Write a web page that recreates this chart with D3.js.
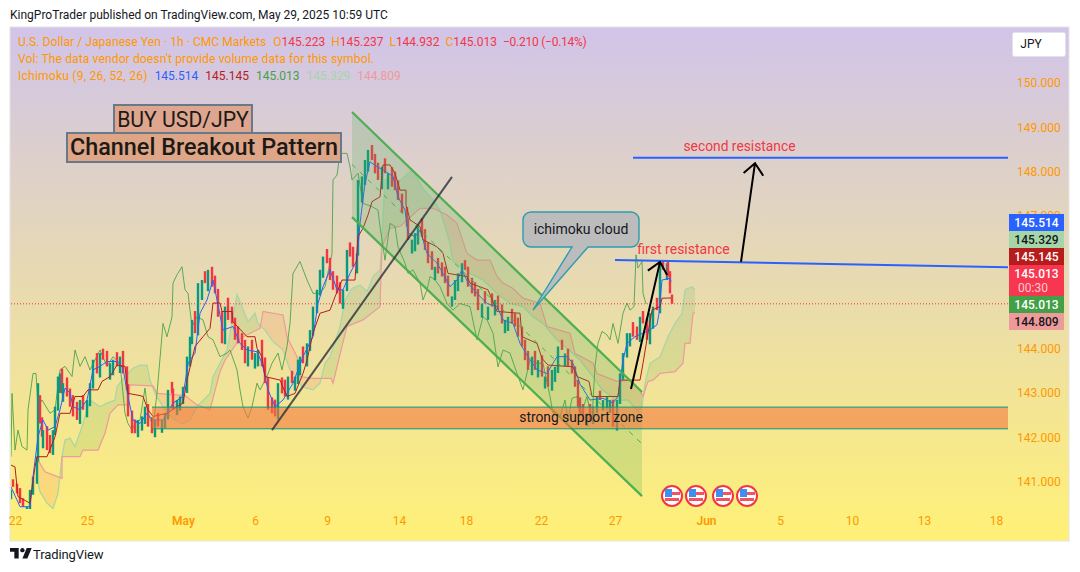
<!DOCTYPE html>
<html><head><meta charset="utf-8">
<script src="https://cdn.jsdelivr.net/npm/d3@7/dist/d3.min.js"></script>
<style>html,body{margin:0;padding:0;background:#fff}svg{display:block}text{font-family:Roboto,sans-serif}</style>
</head><body><svg id="c" width="1080" height="572"></svg>
<script>
const hours=[0,2,6,9,12,16,19,22,26,27,29,31,32,36,39,42,44,47,49,51,52,56,59,62,66,69,72,76,79,82,86,89,92,96,99,102,106,109,112,116,117,121,124,127,131,134,137,141,144,147,151,154,157,161,162,166,169,172,176,179,181,184,187,191,194,197,201,204,207,211,214,217,221,224,227,231,234,237,241,244,247,251,254,257,261,264,267,271,274,277,281,284,287,
289,292,296,299,302,306,309,312,316,319,322,326,329,332,336,339,342,346,347,351,354,357,361,364,367,371,374,377,381,384,387,391,396,397,401,404,407,411,414,417,421,424,427,431,434,437,441,444,447,451,454,457,461,464,467,471,474,477,481,484,487,491,494,497,501,504,507,511,514,517,521,524,527,531,534,537,541,544,547,551,554,557,561,564,567,
569,572,576,579,582,586,589,592,596,599,602,606,609,612,616,619,622,626,629,632,636,639,642,646,649,652,656,657,659,661];
const closes=[140.81,140.88,140.73,140.51,140.43,140.43,140.81,141.11,141.56,143.22,142.31,142.01,142.16,141.71,141.64,142.16,142.69,143.37,143.44,142.99,143.22,142.92,142.69,142.47,142.39,142.84,142.62,142.84,143.22,143.75,143.44,143.90,143.75,143.60,143.67,143.75,143.60,143.82,143.44,143.07,142.47,142.09,142.09,142.39,142.47,142.69,142.24,142.09,142.39,142.24,142.39,142.54,143.07,142.99,142.62,142.84,142.92,143.14,143.82,144.27,144.65,144.35,145.48,145.55,145.48,145.78,145.40,145.25,144.72,144.12,144.95,144.65,144.57,144.20,144.12,143.97,143.67,144.05,143.75,143.90,143.97,143.60,143.22,142.62,142.54,142.47,143.22,142.99,142.92,143.37,143.22,143.37,143.75,
143.82,143.67,144.12,144.42,144.95,145.33,145.78,146.08,145.93,145.55,145.33,145.25,145.02,145.33,146.23,146.08,145.85,146.15,147.81,147.89,148.26,148.49,148.26,147.96,147.81,148.11,147.96,147.96,147.66,147.58,147.36,147.06,146.76,146.46,146.46,146.61,146.76,146.53,146.23,145.93,145.78,145.85,145.70,145.63,145.48,145.18,145.18,145.55,145.70,145.93,145.78,145.40,145.25,145.18,144.87,145.02,145.02,144.95,144.95,145.10,144.87,144.57,144.65,144.72,144.57,144.50,144.27,144.05,143.74,143.52,143.82,143.52,143.74,143.37,143.37,143.14,143.52,143.59,144.05,143.97,143.89,143.59,143.44,143.14,142.69,
142.54,142.39,142.54,142.39,142.69,142.92,142.84,142.84,142.92,142.84,142.24,142.84,143.44,143.90,144.35,144.35,144.27,144.20,144.72,144.57,144.20,144.80,144.95,144.87,145.93,145.78,145.93,145.63,145.25,145.013];
const opens=[140.6,141.05,140.95,140.85,140.62,140.25,140.35,140.7,140.95,141.45,142.95,142.45,141.75,142.25,142.05,141.6,142.05,142.6,143.0,143.55,142.8,143.35,143.1,142.95,142.8,142.3,142.95,142.45,142.7,143.1,143.9,143.35,144.0,143.95,143.3,143.4,143.92,143.45,143.95,143.6,143.2,142.6,142.4,142.0,142.15,142.3,142.75,142.45,142.0,142.55,142.1,142.2,142.4,143.25,143.1,142.5,142.6,142.75,143.0,143.6,144.1,144.85,144.3,145.1,145.75,145.3,145.85,145.65,145.35,144.85,144.1,145.15,144.95,144.7,144.5,144.35,144.2,143.6,144.2,143.55,143.6,144.2,143.8,143.35,142.9,142.85,142.4,143.35,143.3,142.85,143.5,143.05,143.2,
143.4,144.05,143.6,143.95,144.3,144.8,145.2,145.6,146.25,146.05,145.75,145.65,145.5,144.9,145.3,146.4,146.3,145.7,146.1,147.3,147.7,148.0,148.6,148.4,148.2,147.6,148.3,147.6,148.1,148.0,147.8,147.5,147.2,146.95,146.15,146.2,146.35,146.95,146.7,146.4,146.2,145.55,146.05,145.95,145.85,145.65,144.95,145.1,145.3,145.5,146.0,145.85,145.6,145.5,145.35,144.7,145.3,144.65,145.25,144.75,145.2,145.0,144.35,144.4,144.9,144.8,144.7,144.5,144.2,143.95,143.4,143.95,143.35,143.85,143.1,143.6,143.05,143.25,143.45,144.2,143.6,144.0,143.75,143.6,143.3,
142.9,142.75,142.25,142.75,142.3,142.55,143.05,142.6,142.65,142.55,142.85,142.15,142.75,143.3,143.8,144.05,144.6,144.5,144.15,144.85,144.7,144.1,144.45,145.15,144.8,146.0,145.55,146.0,145.75,145.223];
const tenkan=[[0,140.88],[9,140.43],[19,140.43],[22,141.11],[27,142.01],[32,142.39],[37,142.16],[44,142.24],[49,142.62],[54,143.11],[59,143.0],[62,142.69],[69,142.62],[76,142.84],[82,143.52],[89,143.6],[96,143.71],[106,143.71],[112,143.56],[117,142.92],[122,142.39],[129,142.31],[136,142.54],[142,142.39],[152,142.39],[162,142.77],[172,142.92],[177,143.67],[184,143.9],[189,144.8],[196,145.1],[202,145.55],[206,145.1],[212,144.42],[222,144.5],[229,144.12],[236,143.97],[246,143.93],[251,143.67],[257,143.07],[264,142.69],[272,142.84],[282,143.22],[292,143.82],[302,144.27],[307,145.02],[312,145.40],[319,145.78],[326,145.33],[332,145.33],[339,145.70],[346,146.0],[349,146.83],[354,147.73],[359,148.22],[366,148.11],[372,148.04],[382,147.89],[387,147.43],[394,147.13],[397,146.61],[404,146.53],[409,146.68],[416,146.15],[426,145.93],[432,145.70],[439,145.40],[446,145.55],[451,145.78],[457,145.48],[466,145.25],[476,145.02],[486,144.95],[492,144.65],[502,144.57],[509,144.12],[517,143.82],[526,143.52],[536,143.44],[546,143.82],[556,143.82],[562,143.67],[569,143.2],[579,142.84],[592,142.88],[602,142.77],[607,142.92],[612,143.74],[616,144.12],[624,144.27],[632,144.35],[639,144.42],[646,144.54],[648,144.8],[651,145.55],[659,145.59],[660,145.514]];
const kijun=[[0,141.37],[4,141.33],[7,140.66],[19,140.51],[24,141.33],[26,141.56],[36,141.56],[44,142.01],[49,142.54],[59,142.54],[64,142.92],[72,142.92],[77,143.07],[87,143.07],[91,143.26],[99,143.37],[106,143.63],[114,143.6],[117,142.99],[129,142.94],[132,142.92],[137,142.62],[142,142.47],[156,142.54],[166,142.69],[172,142.77],[176,143.29],[184,144.05],[192,144.27],[199,144.46],[202,145.03],[209,145.03],[211,144.84],[221,144.84],[222,144.61],[236,144.27],[244,144.27],[246,144.01],[251,143.82],[254,143.37],[269,143.29],[276,142.92],[284,142.99],[292,143.44],[296,143.74],[302,144.35],[309,144.8],[319,144.87],[324,145.17],[331,145.55],[344,145.55],[347,146.53],[352,146.72],[357,147.02],[361,147.32],[369,147.43],[372,148.15],[379,148.15],[384,147.96],[389,147.58],[395,147.58],[395,147.25],[399,146.91],[409,146.76],[412,146.46],[426,146.3],[432,146.15],[437,145.7],[456,145.63],[459,145.48],[477,145.33],[486,144.84],[509,144.8],[511,144.27],[526,144.12],[531,143.78],[537,143.63],[562,143.59],[566,143.37],[578,143.26],[581,142.92],[607,142.92],[609,143.29],[629,143.29],[632,143.67],[637,144.35],[641,144.87],[649,144.95],[651,145.14],[660,145.145]];
const chikou=[[0,141.56],[1,142.99],[4,141.71],[7,142.16],[11,141.79],[16,141.71],[17,142.62],[22,143.44],[25,143.44],[27,142.69],[31,142.84],[39,142.54],[44,142.62],[49,143.52],[54,143.6],[61,143.37],[64,143.97],[69,143.6],[74,143.82],[79,143.52],[89,143.97],[96,143.6],[102,143.82],[109,143.67],[114,142.54],[117,142.31],[121,142.16],[124,142.31],[129,142.39],[134,143.11],[137,142.54],[142,142.24],[146,142.99],[152,144.57],[156,144.27],[161,144.72],[162,145.48],[166,145.67],[171,145.85],[174,145.33],[177,145.25],[181,144.5],[186,144.72],[192,144.65],[197,144.27],[202,144.2],[209,143.82],[216,143.9],[219,143.97],[226,143.52],[229,143.07],[232,142.69],[237,142.43],[241,142.69],[246,143.22],[249,143.07],[256,143.37],[261,143.67],[267,143.9],[271,143.52],[276,144.05],[279,144.57],[282,145.7],[289,145.97],[296,145.55],[302,145.25],[309,145.25],[314,145.4],[321,146.15],[322,147.81],[326,147.92],[329,148.41],[336,148.41],[339,148.11],[341,147.81],[347,147.96],[352,147.28],[361,147.21],[367,147.13],[369,146.76],[374,146.0],[379,146.83],[384,146.76],[387,146.3],[394,145.93],[397,145.7],[402,145.78],[409,145.48],[412,145.1],[416,145.33],[419,145.63],[424,145.55],[429,145.4],[436,145.02],[442,144.87],[449,145.02],[459,144.95],[466,144.2],[472,144.72],[476,144.65],[482,144.35],[487,143.59],[492,143.97],[499,143.9],[506,143.44],[512,143.07],[519,143.74],[526,143.67],[532,143.67],[539,142.92],[542,142.54],[549,142.46],[554,142.84],[557,142.39],[561,142.88],[566,142.92],[569,142.47],[576,142.92],[581,142.39],[584,143.6],[587,144.12],[591,144.39],[596,144.31],[599,144.2],[602,144.57],[607,144.12],[612,144.8],[616,145.03],[619,144.87],[623,144.95],[625,146.12],[627,145.82],[631,145.97],[632,145.25],[635,145.013]];
const spanA=[[26,141.07],[29,140.77],[36,140.51],[42,140.39],[47,140.73],[51,141.56],[54,141.94],[59,141.98],[64,141.79],[71,142.24],[79,142.84],[89,142.69],[96,142.77],[104,142.84],[106,143.14],[114,143.37],[122,143.56],[129,143.63],[136,143.63],[139,143.29],[144,142.99],[156,142.54],[164,142.39],[171,142.3],[179,142.39],[186,142.69],[199,142.99],[202,143.37],[209,143.67],[216,143.97],[222,144.72],[226,145.22],[231,144.95],[237,144.61],[244,144.8],[247,144.57],[254,144.42],[262,144.16],[272,143.97],[279,143.52],[284,143.41],[291,143.14],[302,143.07],[309,143.22],[314,143.67],[319,143.82],[329,144.5],[334,145.1],[341,145.36],[349,145.44],[356,145.29],[362,145.63],[369,145.78],[371,146.53],[374,147.81],[381,147.89],[386,147.73],[401,148.04],[412,147.62],[422,147.36],[429,147.13],[439,146.38],[442,145.97],[459,145.7],[472,145.55],[486,145.25],[499,145.02],[512,144.95],[522,144.72],[532,144.57],[546,144.2],[562,143.89],[569,143.74],[582,143.37],[591,143.07],[606,142.84],[617,142.84],[627,142.58],[631,142.69],[634,143.22],[639,143.67],[649,143.82],[657,144.27],[664,144.57],[671,144.8],[674,145.33],[681,145.4],[684,145.329]];
const spanB=[[26,141.52],[34,141.22],[51,141.07],[51,141.56],[69,141.56],[72,141.71],[87,141.71],[94,142.09],[99,142.54],[107,142.73],[117,142.73],[119,143.18],[142,143.16],[146,142.99],[174,142.94],[186,142.73],[199,142.62],[209,143.48],[214,143.74],[229,144.23],[249,144.46],[252,144.84],[272,144.76],[276,144.27],[286,143.82],[289,143.37],[302,143.33],[320,143.33],[322,143.22],[331,144.05],[336,144.5],[352,144.65],[369,144.95],[371,146.3],[379,146.72],[389,146.76],[409,147.17],[422,147.17],[436,147.02],[446,146.83],[456,146.15],[466,146.0],[479,146.0],[486,145.63],[492,145.48],[502,145.36],[512,145.14],[529,145.02],[536,144.5],[559,144.35],[564,143.89],[576,143.75],[582,143.67],[586,143.44],[606,143.26],[619,143.29],[629,143.07],[632,142.92],[637,143.26],[642,143.29],[649,143.44],[664,143.48],[672,143.67],[674,144.12],[679,144.12],[682,144.8],[684,144.809]];
const priceTicks=[141,142,143,144,147,148,149,150];
const dateTicks=[["22",4],["25",76],["May",172],["6",244],["9",316],["14",388],["18",455],["22",530],["27",604],["Jun",695],["5",769],["10",841],["13",913],["18",985]];
const lastPrice=145.013;
const tagTexts=[["145.514","#2962ff","#fff"],["145.329","#a5d6a7","#131722"],["145.145","#b71c1c","#fff"],["145.013","#f7374f","#fff"],["145.013","#43a047","#fff"],["144.809","#ef9a9a","#131722"]];
const channelTop=[[341,149.345],[631,143.02]];
const channelBottom=[[341,146.97],[631,140.67]];
const channelMid=[[341,148.16],[631,141.85]];
const trendLine=[[261,142.16],[441,147.88]];
const arrowA=[[620,143.09],[649,145.96]];
const arrowB=[[730,145.96],[744,148.19]];
const firstRes=[[604,146.0],[997,145.84]];
const secondRes=[[622,148.31],[997,148.31]];
const zone=[141,997,142.68,142.19];
const flagHours=[661,685,712,736];

const W=1080,H=572,L=11,R=1008,T=27,B=541;
const x=d3.scaleLinear().domain([0,997]).range([L,R]);
const y=d3.scaleLinear().domain([141,150]).range([481.5,83]);
const svg=d3.select("#c");
const defs=svg.append("defs");
const g=defs.append("linearGradient").attr("id","bg").attr("x1",0).attr("y1",0).attr("x2",0).attr("y2",1);
g.append("stop").attr("offset",0).attr("stop-color","#d1c4e9");
g.append("stop").attr("offset",1).attr("stop-color","#fff176");
defs.append("clipPath").attr("id","plot").append("rect").attr("x",L).attr("y",T).attr("width",R-L).attr("height",B-T-32);
svg.append("rect").attr("x",10).attr("y",27).attr("width",1059).attr("height",514).attr("fill","url(#bg)").attr("stroke","#e6e3e0");

svg.append("text").attr("x",10).attr("y",19).attr("font-size",12).attr("fill","#131722").text("KingProTrader published on TradingView.com, May 29, 2025 10:59 UTC");

const plot=svg.append("g").attr("clip-path","url(#plot)");

const lineGen=d3.line().x(d=>x(d[0])).y(d=>y(d[1]));
const areaDown=d3.area().x(d=>x(d[0])).y0(B).y1(d=>y(d[1]));
const areaUp=d3.area().x(d=>x(d[0])).y0(T).y1(d=>y(d[1]));
defs.append("clipPath").attr("id","belowA").append("path").attr("d",areaDown(spanA));
defs.append("clipPath").attr("id","belowB").append("path").attr("d",areaDown(spanB));
plot.append("g").attr("clip-path","url(#belowA)").append("path").attr("d",areaUp(spanB)).attr("fill","#43a047").attr("fill-opacity",.13);
plot.append("g").attr("clip-path","url(#belowB)").append("path").attr("d",areaUp(spanA)).attr("fill","#ff5252").attr("fill-opacity",.13);
[[spanA,"#a5d6a7",1.2,1],[spanB,"#ef9a9a",1.2,1],[chikou,"#43a047",1,.85]].forEach(([s,c,w,o])=>{
  plot.append("path").attr("d",lineGen(s)).attr("fill","none").attr("stroke",c).attr("stroke-width",w).attr("stroke-opacity",o);
});

plot.append("line").attr("x1",L).attr("x2",R).attr("y1",y(lastPrice)).attr("y2",y(lastPrice)).attr("stroke","#f23645").attr("stroke-dasharray","1 2");

plot.selectAll("rect.c").data(closes).join("rect").attr("class","c")
 .attr("x",(c,i)=>x(hours[i])-1.2).attr("width",2.4)
 .attr("y",(c,i)=>Math.min(y(opens[i]),y(c))).attr("height",(c,i)=>Math.max(1,Math.abs(y(opens[i])-y(c))))
 .attr("fill",(c,i)=>c>=opens[i]?"#089981":"#f23645");
[[tenkan,"#2962ff"],[kijun,"#b71c1c"]].forEach(([s,c])=>{
  plot.append("path").attr("d",lineGen(s)).attr("fill","none").attr("stroke",c).attr("stroke-width",1);
});

const an=svg.append("g");
const poly=channelTop.concat(channelBottom.slice().reverse());
an.append("path").attr("d",lineGen(poly)+"Z").attr("fill","#4caf50").attr("fill-opacity",.22);
an.append("path").attr("d",lineGen(channelMid)).attr("stroke","#4caf50").attr("stroke-width",1).attr("stroke-dasharray","5 6").attr("fill","none");
[channelTop,channelBottom].forEach(s=>an.append("path").attr("d",lineGen(s)).attr("stroke","#4caf50").attr("stroke-width",2.2).attr("fill","none"));

an.append("rect").attr("x",x(zone[0])).attr("y",y(zone[2])).attr("width",x(zone[1])-x(zone[0])).attr("height",y(zone[3])-y(zone[2])).attr("fill","#f2793f").attr("fill-opacity",.6);
[zone[2],zone[3]].forEach(p=>an.append("line").attr("x1",x(zone[0])).attr("x2",x(zone[1])).attr("y1",y(p)).attr("y2",y(p)).attr("stroke","#089981").attr("stroke-width",1));
an.append("text").attr("x",581).attr("y",422).attr("text-anchor","middle").attr("font-size",13.8).attr("fill","#131722").text("strong support zone");

an.append("path").attr("d",lineGen(trendLine)).attr("stroke","#2a2e39").attr("stroke-opacity",.8).attr("stroke-width",2).attr("fill","none");
[firstRes,secondRes].forEach(s=>an.append("path").attr("d",lineGen(s)).attr("stroke","#2962ff").attr("stroke-width",2).attr("fill","none"));
function arrow(s){
  const x0=x(s[0][0]),y0=y(s[0][1]),x1=x(s[1][0]),y1=y(s[1][1]);
  const a=Math.atan2(y1-y0,x1-x0),len=15,sp=.72;
  const p=d3.path();
  p.moveTo(x0,y0);p.lineTo(x1,y1);
  p.moveTo(x1-len*Math.cos(a-sp),y1-len*Math.sin(a-sp));p.lineTo(x1,y1);p.lineTo(x1-len*Math.cos(a+sp),y1-len*Math.sin(a+sp));
  an.append("path").attr("d",p.toString()).attr("stroke","#000").attr("stroke-width",2).attr("fill","none");
}
arrow(arrowA);arrow(arrowB);
an.append("text").attr("x",683.5).attr("y",254).attr("text-anchor","middle").attr("font-size",14).attr("fill","#f23645").text("first resistance");
an.append("text").attr("x",739.5).attr("y",151).attr("text-anchor","middle").attr("font-size",13.8).attr("fill","#f23645").text("second resistance");

an.append("path").attr("d","M531,212H631a8,8 0 0 1 8,8V239a8,8 0 0 1 -8,8H588L533,310L572,247H531a8,8 0 0 1 -8,-8V220a8,8 0 0 1 8,-8Z").attr("fill","#bcbcbc").attr("stroke","#2a9db0").attr("stroke-width",1.4);
an.append("text").attr("x",581).attr("y",234).attr("text-anchor","middle").attr("font-size",14).attr("fill","#131722").text("ichimoku cloud");

[[113,104,140,30,"BUY USD/JPY",21.2,"#dfa68f",400],[66,132,276,31,"Channel Breakout Pattern",23.4,"#dfa587",500]].forEach(b=>{
  an.append("rect").attr("x",b[0]+1).attr("y",b[1]+1).attr("width",b[2]-2).attr("height",b[3]-2).attr("fill",b[6]).attr("stroke","#687a8a").attr("stroke-width",2);
  an.append("text").attr("x",b[0]+b[2]/2).attr("y",b[1]+b[3]/2+7.5).attr("text-anchor","middle").attr("font-size",b[5]).attr("font-weight",b[7]).attr("fill","#1c1a18").text(b[4]);
});

flagHours.forEach(h=>{
  const f=an.append("g").attr("transform",`translate(${x(h)},496)`);
  f.append("circle").attr("r",10).attr("fill","#fff").attr("stroke","#f23645").attr("stroke-width",2);
  f.append("rect").attr("x",-7).attr("y",2).attr("width",14).attr("height",3).attr("fill","#f0555f");
  f.append("rect").attr("x",0).attr("y",-4).attr("width",8).attr("height",3).attr("fill","#f0555f");
  f.append("rect").attr("x",-7).attr("y",-7).attr("width",7).attr("height",8).attr("fill","#3f8ff0");
});

const yAxis=d3.axisRight(y).tickValues(priceTicks).tickFormat(d3.format(".3f")).tickSize(0).tickPadding(0);
const ya=svg.append("g").attr("transform","translate(1017,0)").call(yAxis);
ya.select(".domain").remove();
ya.selectAll("text").attr("font-size",12).attr("fill","#ff9800").attr("font-family","Roboto");
const xAxis=d3.axisBottom(x).tickValues(dateTicks.map(d=>d[1])).tickFormat((d,i)=>dateTicks[i][0]).tickSize(0).tickPadding(0);
const xa=svg.append("g").attr("transform","translate(0,516)").call(xAxis);
xa.select(".domain").remove();
xa.selectAll("text").attr("font-size",12).attr("fill","#ff9800").attr("font-family","Roboto").attr("font-weight",d=>(d===172||d===695)?600:400);

const tagBoxes=[[214,17],[231,17],[248,17],[265,31],[296,17],[313,17]];
tagTexts.forEach((t,i)=>{
  const [ty,th]=tagBoxes[i];
  svg.append("rect").attr("x",1009).attr("y",ty).attr("width",55).attr("height",th).attr("fill",t[1]);
  svg.append("text").attr("x",1036.5).attr("y",ty+13).attr("text-anchor","middle").attr("font-size",12).attr("font-weight",500).attr("fill",t[2]).text(t[0]);
});
svg.append("text").attr("x",1018).attr("y",292).attr("font-size",12).attr("fill","#ffc9cf").text("00:30");

svg.append("rect").attr("x",1012.5).attr("y",32.5).attr("width",53).attr("height",24).attr("rx",2).attr("fill","#fff").attr("stroke","#e0e3eb");
svg.append("text").attr("x",1031).attr("y",48).attr("text-anchor","middle").attr("font-size",12).attr("fill","#131722").text("JPY");

const OR="#ff9800",RD="#f23645";
function legend(yy,parts){
  const t=svg.append("text").attr("x",18).attr("y",yy).attr("font-size",12);
  parts.forEach(p=>t.append("tspan").attr("fill",p[1]).attr("dx",p[2]||0).attr("letter-spacing",p[3]||0).text(p[0]));
}
legend(46,[["U.S. Dollar / Japanese Yen · 1h · CMC Markets",OR,0,.07],["O",OR,7],["145.223",RD],["H",OR,6],["145.237",RD],["L",OR,6],["144.932",RD],["C",OR,6],["145.013",RD],["−0.210 (−0.14%)",RD,6,-.25]]);
legend(63,[["Vol: The data vendor doesn't provide volume data for this symbol.",OR,0,.14]]);
legend(80,[["Ichimoku (9, 26, 52, 26)",OR,0,.25],["145.514","#2962ff",7],["145.145","#b71c1c",7],["145.013","#43a047",7],["145.329","#a5d6a7",7],["144.809","#ef9a9a",7]]);

const lg=svg.append("g").attr("transform","translate(10,548) scale(.62)");
lg.append("path").attr("d","M14 17H7V6H0V0h14zM28 17h-8l7-17h8z").attr("fill","#131722");
lg.append("circle").attr("cx",20).attr("cy",3.5).attr("r",3.5).attr("fill","#131722");
svg.append("text").attr("x",33).attr("y",559).attr("font-size",13).attr("letter-spacing",-.1).attr("fill","#131722").text("TradingView");
</script></body></html>
